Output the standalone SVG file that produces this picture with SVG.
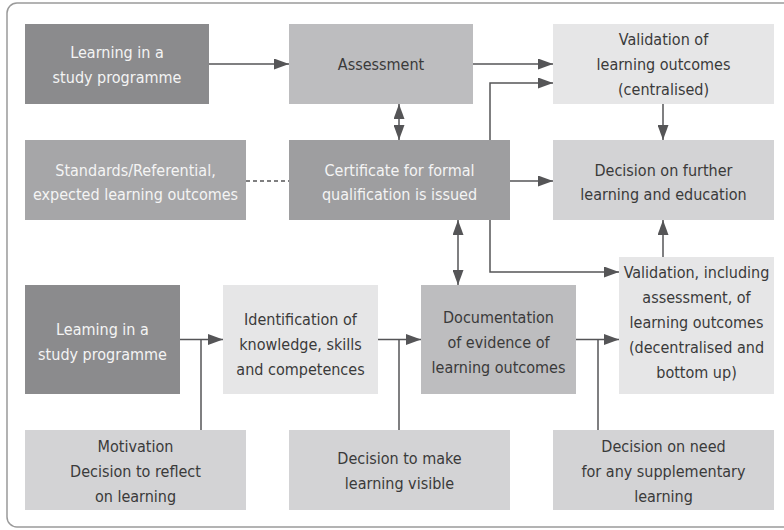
<svg xmlns="http://www.w3.org/2000/svg" width="784" height="530" viewBox="0 0 784 530">
<defs>
<marker id="ah" markerUnits="userSpaceOnUse" markerWidth="15" markerHeight="11" refX="15" refY="5.5" orient="auto-start-reverse">
<path d="M0,0 L15,5.5 L0,11 z" fill="#555557"/>
</marker>
<style>
text{font-family:'DejaVu Sans Condensed','DejaVu Sans',sans-serif;font-stretch:condensed;font-size:16px;text-anchor:middle}
.lt{fill:#f4f4f4}
.dk{fill:#3a3a3a}
.c1{fill:#8b8b8d}
.c2{fill:#9e9ea0}
.c3{fill:#a6a6a8}
.c4{fill:#bdbdbf}
.c5{fill:#d3d3d5}
.c6{fill:#e6e6e7}
.ln{fill:none;stroke:#555557;stroke-width:1.5}
.ar{marker-end:url(#ah)}
.da{marker-start:url(#ah);marker-end:url(#ah)}
</style>
</defs>
<rect x="7" y="3" width="790" height="524" rx="10" fill="#ffffff" stroke="#9a9a9a" stroke-width="1.5"/>

<g id="connectors">
<path class="ln ar" d="M209,64 H289"/>
<path class="ln ar" d="M473,64 H553"/>
<path class="ln ar" d="M490,140 V83 H553"/>
<path class="ln da" d="M399,104 V140"/>
<path class="ln" d="M246,181 H289" stroke-dasharray="4 3"/>
<path class="ln ar" d="M510,181 H553"/>
<path class="ln ar" d="M663,104 V140"/>
<path class="ln ar" d="M663,257 V220"/>
<path class="ln ar" d="M490,220 V272 H619"/>
<path class="ln da" d="M458,220 V285"/>
<path class="ln ar" d="M180,339.5 H223"/>
<path class="ln" d="M201,430 V339.5"/>
<path class="ln ar" d="M378,339.5 H421"/>
<path class="ln" d="M399,430 V339.5"/>
<path class="ln ar" d="M576,339.5 H619"/>
<path class="ln" d="M598,430 V339.5"/>
</g>

<g id="learning-top">
<rect class="c1" x="25" y="24" width="184" height="80"/>
<text class="lt" x="117" y="58">Learning in a</text>
<text class="lt" x="117" y="83">study programme</text>
</g>
<g id="assessment">
<rect class="c4" x="289" y="24" width="184" height="80"/>
<text class="dk" x="381" y="70">Assessment</text>
</g>
<g id="validation-centralised">
<rect class="c6" x="553" y="24" width="221" height="80"/>
<text class="dk" x="663.5" y="45">Validation of</text>
<text class="dk" x="663.5" y="70">learning outcomes</text>
<text class="dk" x="663.5" y="95">(centralised)</text>
</g>
<g id="standards">
<rect class="c3" x="25" y="140" width="221" height="80"/>
<text class="lt" x="135.5" y="176">Standards/Referential,</text>
<text class="lt" x="135.5" y="200">expected learning outcomes</text>
</g>
<g id="certificate">
<rect class="c2" x="289" y="140" width="221" height="80"/>
<text class="lt" x="399.5" y="176">Certificate for formal</text>
<text class="lt" x="399.5" y="200">qualification is issued</text>
</g>
<g id="decision-further">
<rect class="c5" x="553" y="140" width="221" height="80"/>
<text class="dk" x="663.5" y="176">Decision on further</text>
<text class="dk" x="663.5" y="200">learning and education</text>
</g>
<g id="learning-bottom">
<rect class="c1" x="25" y="285" width="155" height="109"/>
<text class="lt" x="102.5" y="335">Leaming in a</text>
<text class="lt" x="102.5" y="360">study programme</text>
</g>
<g id="identification">
<rect class="c6" x="223" y="285" width="155" height="109"/>
<text class="dk" x="300.5" y="325">Identification of</text>
<text class="dk" x="300.5" y="350">knowledge, skills</text>
<text class="dk" x="300.5" y="375">and competences</text>
</g>
<g id="documentation">
<rect class="c4" x="421" y="285" width="155" height="109"/>
<text class="dk" x="498.5" y="323">Documentation</text>
<text class="dk" x="498.5" y="348">of evidence of</text>
<text class="dk" x="498.5" y="373">learning outcomes</text>
</g>
<g id="validation-decentralised">
<rect class="c6" x="619" y="257" width="155" height="137"/>
<text class="dk" x="696.5" y="278">Validation, including</text>
<text class="dk" x="696.5" y="303">assessment, of</text>
<text class="dk" x="696.5" y="328">learning outcomes</text>
<text class="dk" x="696.5" y="353">(decentralised and</text>
<text class="dk" x="696.5" y="378">bottom up)</text>
</g>
<g id="motivation">
<rect class="c5" x="25" y="430" width="221" height="80"/>
<text class="dk" x="135.5" y="452">Motivation</text>
<text class="dk" x="135.5" y="477">Decision to reflect</text>
<text class="dk" x="135.5" y="502">on learning</text>
</g>
<g id="decision-visible">
<rect class="c5" x="289" y="430" width="221" height="80"/>
<text class="dk" x="399.5" y="464">Decision to make</text>
<text class="dk" x="399.5" y="489">learning visible</text>
</g>
<g id="decision-supplementary">
<rect class="c5" x="553" y="430" width="221" height="80"/>
<text class="dk" x="663.5" y="452">Decision on need</text>
<text class="dk" x="663.5" y="477">for any supplementary</text>
<text class="dk" x="663.5" y="502">learning</text>
</g>
</svg>
